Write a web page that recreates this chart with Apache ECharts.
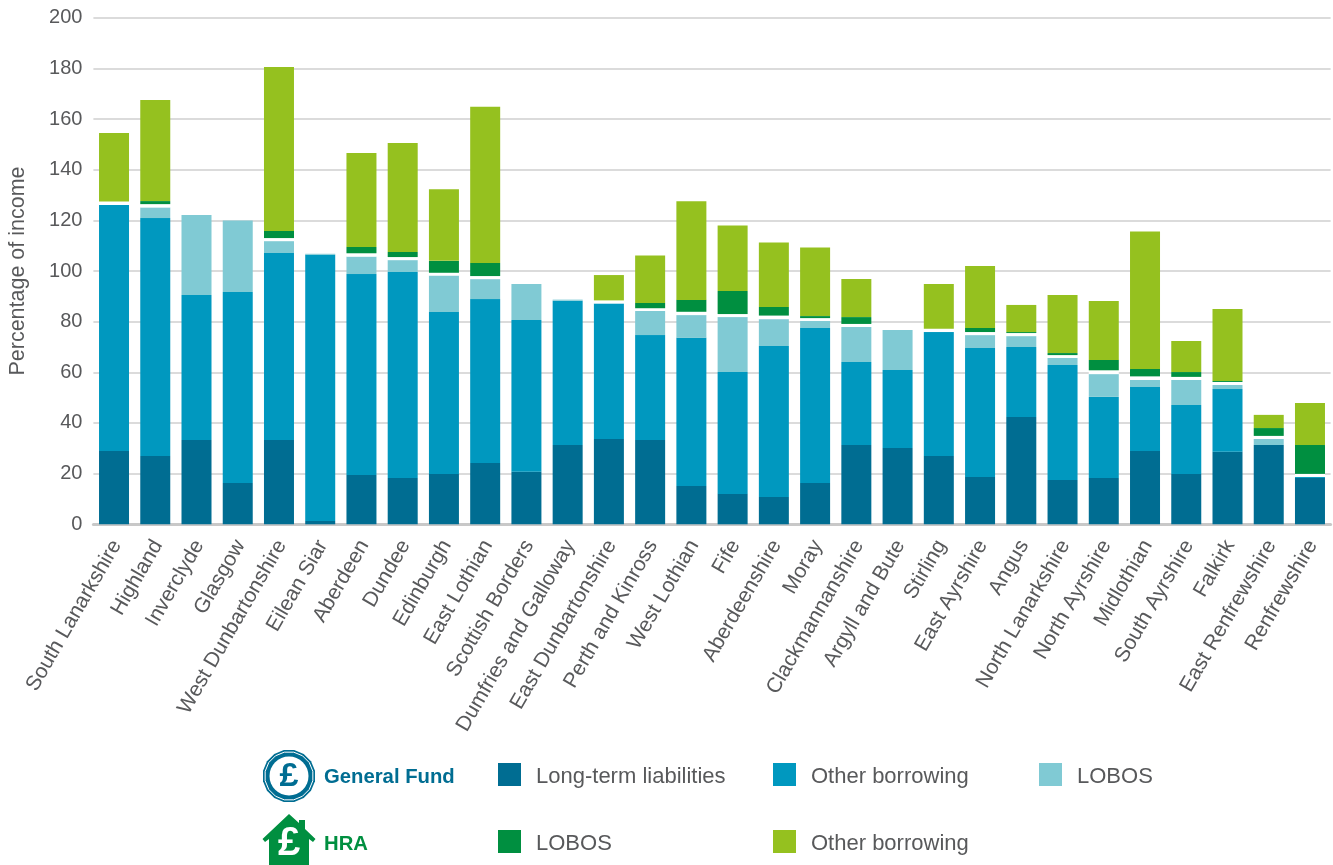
<!DOCTYPE html>
<html>
<head>
<meta charset="utf-8">
<title>Debt as percentage of income</title>
<script src="https://cdn.jsdelivr.net/npm/echarts@6/dist/echarts.min.js"></script>
<style>
  html, body { margin: 0; padding: 0; background: #fff; }
  #chart { width: 1333px; height: 865px; }
</style>
</head>
<body>
<div id="chart"></div>
<script>
const councils = ["South Lanarkshire", "Highland", "Inverclyde", "Glasgow", "West Dunbartonshire", "Eilean Siar", "Aberdeen", "Dundee", "Edinburgh", "East Lothian", "Scottish Borders", "Dumfries and Galloway", "East Dunbartonshire", "Perth and Kinross", "West Lothian", "Fife", "Aberdeenshire", "Moray", "Clackmannanshire", "Argyll and Bute", "Stirling", "East Ayrshire", "Angus", "North Lanarkshire", "North Ayrshire", "Midlothian", "South Ayrshire", "Falkirk", "East Renfrewshire", "Renfrewshire"];
const yTicks = [0, 20, 40, 60, 80, 100, 120, 140, 160, 180, 200];

// General Fund
const longTerm = [28.9, 27, 33.3, 16.3, 33.3, 1.3, 19.5, 18.3, 19.9, 24.2, 20.7, 31.3, 33.7, 33.3, 15.1, 12, 10.8, 16.3, 31.3, 30.1, 27, 18.7, 42.4, 17.5, 18.3, 28.9, 19.9, 28.6, 31.3, 18.3];
const gfOther = [97.2, 93.9, 57.2, 75.4, 73.8, 105.1, 79.3, 81.3, 63.9, 64.7, 60, 57, 53.5, 41.4, 58.5, 48.1, 59.6, 61.2, 32.8, 30.8, 48.9, 50.9, 27.6, 45.4, 32, 25.3, 27.2, 24.8, 0, 0.4];
const gfLobos = [0, 4.2, 31.6, 28.2, 4.7, 0.4, 6.9, 4.7, 14.4, 7.9, 14.2, 0.4, 0, 9.5, 9, 21.7, 10.6, 2.8, 13.8, 15.8, 0, 5.1, 4.3, 2.8, 9, 2.8, 9.9, 1.6, 2.4, 0];
// white divider between the General Fund and HRA parts of a bar
const divider = [1.3, 1.3, 0, 0, 1.2, 0, 1.3, 1.2, 1.1, 1.2, 0, 0, 1.2, 1.1, 1.3, 1.2, 1.4, 1.1, 1.2, 0, 1.3, 1.2, 1.2, 1.1, 1.5, 1.4, 1.2, 1.2, 1.2, 1.2];
// HRA
const hraLobos = [0, 1.2, 0, 0, 2.8, 0, 2.5, 2, 4.7, 5.2, 0, 0, 0, 2.1, 4.7, 9.1, 3.4, 0.8, 2.7, 0, 0, 1.6, 0.4, 0.8, 4.1, 2.9, 1.9, 0.4, 3.1, 11.4];
const hraOther = [27.1, 39.9, 0, 0, 64.7, 0, 37.1, 43, 28.3, 61.6, 0, 0, 10, 18.7, 38.9, 25.9, 25.5, 27.1, 15, 0, 17.7, 24.5, 10.7, 22.9, 23.3, 54.3, 12.3, 28.4, 5.2, 16.6];

const TEXT = "#58595b";
const GRID = "#cfcfcf";
const TEAL = "#006d92";
const GREEN = "#008f40";
const FONT = "Liberation Sans";

const chart = echarts.init(document.getElementById("chart"), null, { renderer: "canvas" });

const barSeries = (name, data, color) => ({
  name,
  type: "bar",
  stack: "total",
  barWidth: 30,
  data,
  itemStyle: { color },
});

// one legend per entry, the reference places them in a loose two row table
const legendItem = (name, left, top) => ({
  data: [name],
  left,
  top,
  padding: 0,
  icon: "rect",
  itemWidth: 23,
  itemHeight: 23,
  selectedMode: false,
  formatter: (n) => "{t|" + n.replace(/ \(.*\)$/, "") + "}",
  textStyle: {
    rich: { t: { color: TEXT, fontFamily: FONT, fontSize: 22, padding: [4, 0, 0, 10] } },
  },
});

// outline of the General Fund coin
const coinPoints = (cx, cy, r) => {
  const pts = [];
  for (let i = 0; i < 16; i++) {
    const a = (Math.PI * 2 * (i + 0.5)) / 16;
    pts.push([cx + r * Math.cos(a), cy + r * Math.sin(a)]);
  }
  return pts;
};

chart.setOption({
  animation: false,
  textStyle: { fontFamily: FONT },
  grid: { left: 93.4, right: 2.4, top: 17.7, height: 506.6, containLabel: false, outerBoundsMode: "none" },
  xAxis: {
    type: "category",
    data: councils,
    axisTick: { show: false },
    axisLine: { lineStyle: { color: "#c8c8c8", width: 3 } },
    // small line box hung from the anchor nudges the slanted labels sideways
    axisLabel: { interval: 0, rotate: 60, margin: 16, verticalAlign: "top", lineHeight: 6, color: TEXT, fontSize: 21, fontFamily: FONT },
  },
  yAxis: {
    type: "value",
    min: yTicks[0],
    max: yTicks[yTicks.length - 1],
    interval: 20,
    name: "Percentage of income",
    nameLocation: "middle",
    nameGap: 64,
    nameTextStyle: { color: TEXT, fontSize: 21.5, fontFamily: FONT },
    axisLine: { show: false },
    axisTick: { show: false },
    axisLabel: { margin: 11, color: TEXT, fontSize: 20, fontFamily: FONT },
    splitLine: { lineStyle: { color: GRID, width: 1.5 } },
  },
  legend: [
    legendItem("Long-term liabilities", 498, 763),
    legendItem("Other borrowing (GF)", 773, 763),
    legendItem("LOBOS (GF)", 1039, 763),
    legendItem("LOBOS (HRA)", 498, 830),
    legendItem("Other borrowing (HRA)", 773, 830),
  ],
  series: [
    barSeries("Long-term liabilities", longTerm, TEAL),
    barSeries("Other borrowing (GF)", gfOther, "#0098bf"),
    barSeries("LOBOS (GF)", gfLobos, "#80cad4"),
    barSeries("divider", divider, "#ffffff"),
    barSeries("LOBOS (HRA)", hraLobos, GREEN),
    barSeries("Other borrowing (HRA)", hraOther, "#95c11f"),
  ],
  graphic: [
    { type: "polygon", shape: { points: coinPoints(289, 776, 26.5) }, style: { fill: TEAL } },
    { type: "polygon", shape: { points: coinPoints(289, 776, 24.3) }, style: { fill: TEAL, stroke: "#fff", lineWidth: 1 } },
    { type: "circle", shape: { cx: 289, cy: 776, r: 19.5 }, style: { fill: "#fff" } },
    { type: "text", x: 289, y: 777, style: { text: "£", fill: TEAL, font: "bold 34px " + FONT, textAlign: "center", textVerticalAlign: "middle" } },
    { type: "text", x: 324, y: 777, style: { text: "General Fund", fill: TEAL, font: "bold 20.3px " + FONT, textVerticalAlign: "middle" } },
    {
      type: "polygon",
      shape: { points: [[289, 814], [299, 823], [299, 820], [305, 820], [305, 829], [315.5, 839], [313, 842], [309, 839], [309, 865], [269, 865], [269, 839], [265, 842], [262.5, 839]] },
      style: { fill: GREEN },
    },
    { type: "text", x: 289, y: 844, style: { text: "£", fill: "#fff", font: "bold 40px " + FONT, textAlign: "center", textVerticalAlign: "middle" } },
    { type: "text", x: 324, y: 844, style: { text: "HRA", fill: GREEN, font: "bold 20.3px " + FONT, textVerticalAlign: "middle" } },
  ],
});

window.addEventListener("resize", () => chart.resize());
</script>
</body>
</html>
